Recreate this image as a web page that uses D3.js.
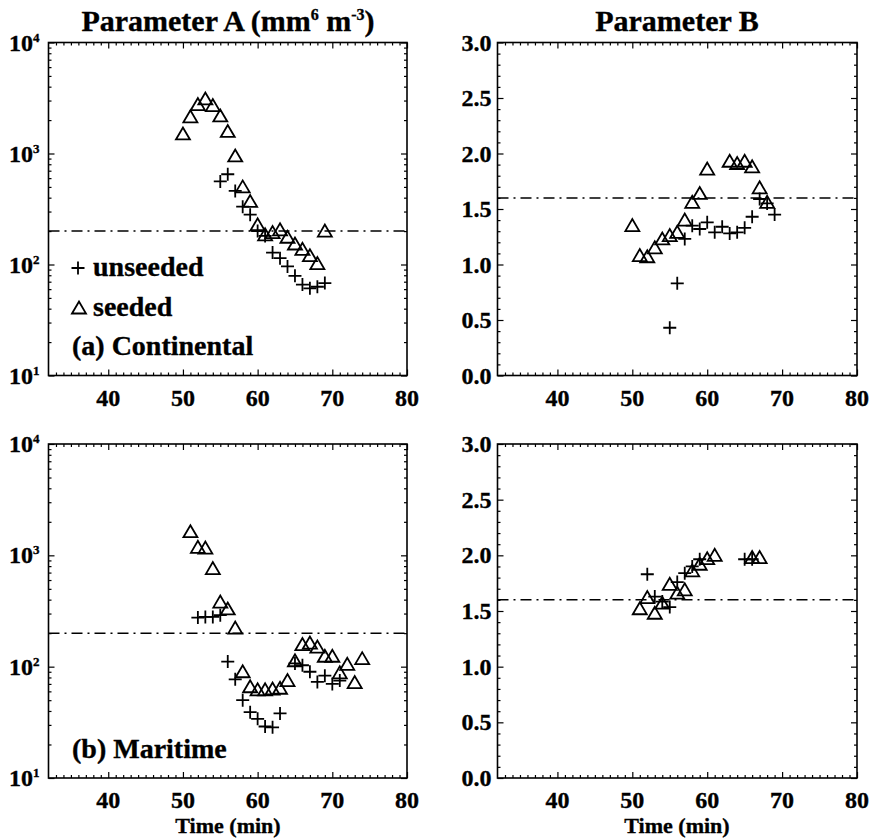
<!DOCTYPE html>
<html><head><meta charset="utf-8">
<script src="https://cdn.jsdelivr.net/npm/d3@7"></script>
<style>
body{margin:0;background:#fff}
svg text{font-family:'Liberation Serif','DejaVu Serif',serif;font-weight:700;fill:#000}
</style>
</head><body>
<svg id="c" width="871" height="840" font-family="Liberation Serif" font-weight="700"></svg>
<script>
// ---------- data ----------
const xTickLabels = [40, 50, 60, 70, 80];
const logTickLabels = [10, 100, 1000, 10000];
const linTickLabels = [0.0, 0.5, 1.0, 1.5, 2.0, 2.5, 3.0];
const refA = 200;
const refB = 1.6;

// (a) Continental, Parameter A
const contA_seeded_t = [50,51,52,53,54,55,56,57,58,59,60,61,62,63,64,65,66,67,68,69];
const contA_seeded_v = [1500,2140,2760,3100,2700,2180,1580,950,500,370,228,185,194,205,176,153,137,120,102,200];
const contA_unseeded_t = [55,56,57,58,59,60,61,62,63,64,65,66,67,68,69];
const contA_unseeded_v = [560,650,460,332,281,200,181,128,114,96,79,66,61,63,68];

// (a) Continental, Parameter B
const contB_seeded_t = [50,51,52,53,54,55,56,57,58,59,60,63,64,65,66,67,68];
const contB_seeded_v = [1.35,1.08,1.07,1.15,1.23,1.26,1.29,1.40,1.56,1.64,1.86,1.93,1.91,1.93,1.88,1.69,1.56];
const contB_unseeded_t = [55,56,57,58,59,60,61,62,63,64,65,66,67,68,69];
const contB_unseeded_v = [0.43,0.83,1.23,1.35,1.32,1.38,1.29,1.34,1.28,1.29,1.33,1.43,1.59,1.55,1.45];

// (b) Maritime, Parameter A
const marA_seeded_t = [51,52,53,54,55,56,57,58,59,60,61,62,63,64,65,66,67,68,69,70,71,72,73,74];
const marA_seeded_v = [1630,1180,1160,760,380,330,222,90,66,62,62,63,64,75,113,158,163,150,124,124,88,105,72,118];
const marA_unseeded_t = [52,53,54,55,56,57,58,59,60,61,62,63,65,66,67,68,69,70,71];
const marA_unseeded_v = [276,280,280,290,111,77,50,39,34,29,28.5,38,107,103,90,73,83,70,75];

// (b) Maritime, Parameter B
const marB_seeded_t = [51,52,53,54,55,56,57,58,59,60,61,66,67];
const marB_seeded_v = [1.52,1.62,1.48,1.57,1.74,1.66,1.69,1.86,1.92,1.97,2.00,1.98,1.98];
const marB_unseeded_t = [52,53,54,55,56,57,58,59,65,66];
const marB_unseeded_v = [1.83,1.63,1.585,1.535,1.76,1.84,1.90,1.965,1.965,1.965];

// ---------- layout ----------
const FONT = "'Liberation Serif','DejaVu Serif',serif";
const svg = d3.select("#c");
const colX = [[48.5, 407], [497.5, 857]];
const rowY = [[42.5, 375.5], [444, 778]];
const crossPath = "M-6.5,0H6.5M0,-6.5V6.5";
const triPath = "M-7,5.5L0,-6.5L7,5.5Z";
const MW = 1.8;

const zip = (t, v) => t.map((d, i) => [d, v[i]]);
const panels = [
  {col:0,row:0,log:true, ref:refA, seeded:zip(contA_seeded_t,contA_seeded_v), unseeded:zip(contA_unseeded_t,contA_unseeded_v)},
  {col:1,row:0,log:false,ref:refB, seeded:zip(contB_seeded_t,contB_seeded_v), unseeded:zip(contB_unseeded_t,contB_unseeded_v)},
  {col:0,row:1,log:true, ref:refA, seeded:zip(marA_seeded_t,marA_seeded_v), unseeded:zip(marA_unseeded_t,marA_unseeded_v)},
  {col:1,row:1,log:false,ref:refB, seeded:zip(marB_seeded_t,marB_seeded_v), unseeded:zip(marB_unseeded_t,marB_unseeded_v)}
];

const xMinor = d3.range(33, 80).filter(d => d % 10 !== 0);
const logMinor = [];
[10, 100, 1000].forEach(dec => { for (let k = 2; k <= 9; k++) logMinor.push(k * dec); });
const linMinor = d3.range(0, 31).filter(d => d % 5 !== 0).map(d => d / 10);

function txt(sel, size) {
  return sel.attr("font-family", FONT).attr("font-weight", "700")
    .style("font-family", FONT).style("font-weight", "700").style("font-size", size + "px")
    .attr("stroke", "#000").attr("stroke-width", 0.35);
}

panels.forEach(p => {
  const [x0, x1] = colX[p.col];
  const [y0, y1] = rowY[p.row];
  const x = d3.scaleLinear().domain([32, 80]).range([x0, x1]);
  const y = p.log ? d3.scaleLog().domain([10, 10000]).range([y1, y0])
                  : d3.scaleLinear().domain([0, 3]).range([y1, y0]);
  const g = svg.append("g");

  const addAxis = (axis, tx, ty) => {
    const a = g.append("g").attr("transform", `translate(${tx},${ty})`).call(axis);
    a.select(".domain").remove();
    a.selectAll("line").attr("stroke", "#000").attr("stroke-width", 1.2);
    a.selectAll("text").remove();
  };
  const yMajor = p.log ? logTickLabels : linTickLabels;
  const yMinor = p.log ? logMinor : linMinor;
  addAxis(d3.axisBottom(x).tickValues(xTickLabels).tickSize(-6).tickSizeOuter(0), 0, y1);
  addAxis(d3.axisTop(x).tickValues(xTickLabels).tickSize(-6).tickSizeOuter(0), 0, y0);
  addAxis(d3.axisLeft(y).tickValues(yMajor).tickSize(-6).tickSizeOuter(0), x0, 0);
  addAxis(d3.axisRight(y).tickValues(yMajor).tickSize(-6).tickSizeOuter(0), x1, 0);
  addAxis(d3.axisBottom(x).tickValues(xMinor).tickSize(-3).tickSizeOuter(0), 0, y1);
  addAxis(d3.axisTop(x).tickValues(xMinor).tickSize(-3).tickSizeOuter(0), 0, y0);
  addAxis(d3.axisLeft(y).tickValues(yMinor).tickSize(-3).tickSizeOuter(0), x0, 0);
  addAxis(d3.axisRight(y).tickValues(yMinor).tickSize(-3).tickSizeOuter(0), x1, 0);

  g.append("rect").attr("x", x0).attr("y", y0).attr("width", x1 - x0).attr("height", y1 - y0)
    .attr("fill", "none").attr("stroke", "#000").attr("stroke-width", 1.6);

  txt(g.selectAll(".xl").data(xTickLabels).enter().append("text")
    .attr("x", d => x(d)).attr("y", y1 + 30).attr("text-anchor", "middle"), 24).text(d => d);

  if (p.log) {
    const t = txt(g.selectAll(".yl").data(yMajor).enter().append("text")
      .attr("x", x0 - 9).attr("y", d => y(d) + 8).attr("text-anchor", "end"), 24);
    t.append("tspan").text("10");
    t.append("tspan").attr("dy", -9).style("font-size", "13px").text(d => Math.round(Math.log10(d)));
  } else {
    txt(g.selectAll(".yl").data(yMajor).enter().append("text")
      .attr("x", x0 - 6).attr("y", d => y(d) + 8).attr("text-anchor", "end"), 24)
      .text(d => d3.format(".1f")(d));
  }

  g.append("line").attr("x1", x0).attr("x2", x1).attr("y1", y(p.ref)).attr("y2", y(p.ref))
    .attr("stroke", "#000").attr("stroke-width", 1.5).attr("stroke-dasharray", "11,5,2,5");

  g.selectAll(".s").data(p.seeded).enter().append("path")
    .attr("d", triPath).attr("transform", d => `translate(${x(d[0])},${y(d[1])})`)
    .attr("fill", "none").attr("stroke", "#000").attr("stroke-width", MW);
  g.selectAll(".u").data(p.unseeded).enter().append("path")
    .attr("d", crossPath).attr("transform", d => `translate(${x(d[0])},${y(d[1])})`)
    .attr("fill", "none").attr("stroke", "#000").attr("stroke-width", MW);
});

// titles
const tA = txt(svg.append("text").attr("x", 228).attr("y", 31).attr("text-anchor", "middle"), 30);
tA.append("tspan").text("Parameter A (mm");
tA.append("tspan").attr("dy", -11).style("font-size", "16px").text("6");
tA.append("tspan").attr("dy", 11).text(" m");
tA.append("tspan").attr("dy", -11).style("font-size", "16px").text("-3");
tA.append("tspan").attr("dy", 11).text(")");
txt(svg.append("text").attr("x", 677).attr("y", 31).attr("text-anchor", "middle"), 30).text("Parameter B");

// legend in panel (a)
svg.append("path").attr("d", crossPath).attr("transform", "translate(78,268)")
  .attr("fill", "none").attr("stroke", "#000").attr("stroke-width", MW);
txt(svg.append("text").attr("x", 93).attr("y", 276), 28).text("unseeded");
svg.append("path").attr("d", triPath).attr("transform", "translate(79,308)")
  .attr("fill", "none").attr("stroke", "#000").attr("stroke-width", MW);
txt(svg.append("text").attr("x", 93).attr("y", 316), 28).text("seeded");
txt(svg.append("text").attr("x", 72).attr("y", 355), 28).text("(a) Continental");
txt(svg.append("text").attr("x", 72).attr("y", 758), 28).text("(b) Maritime");

[228, 677].forEach(cx => txt(svg.append("text").attr("x", cx).attr("y", 833)
  .attr("text-anchor", "middle"), 22).text("Time (min)"));
</script>
</body></html>
